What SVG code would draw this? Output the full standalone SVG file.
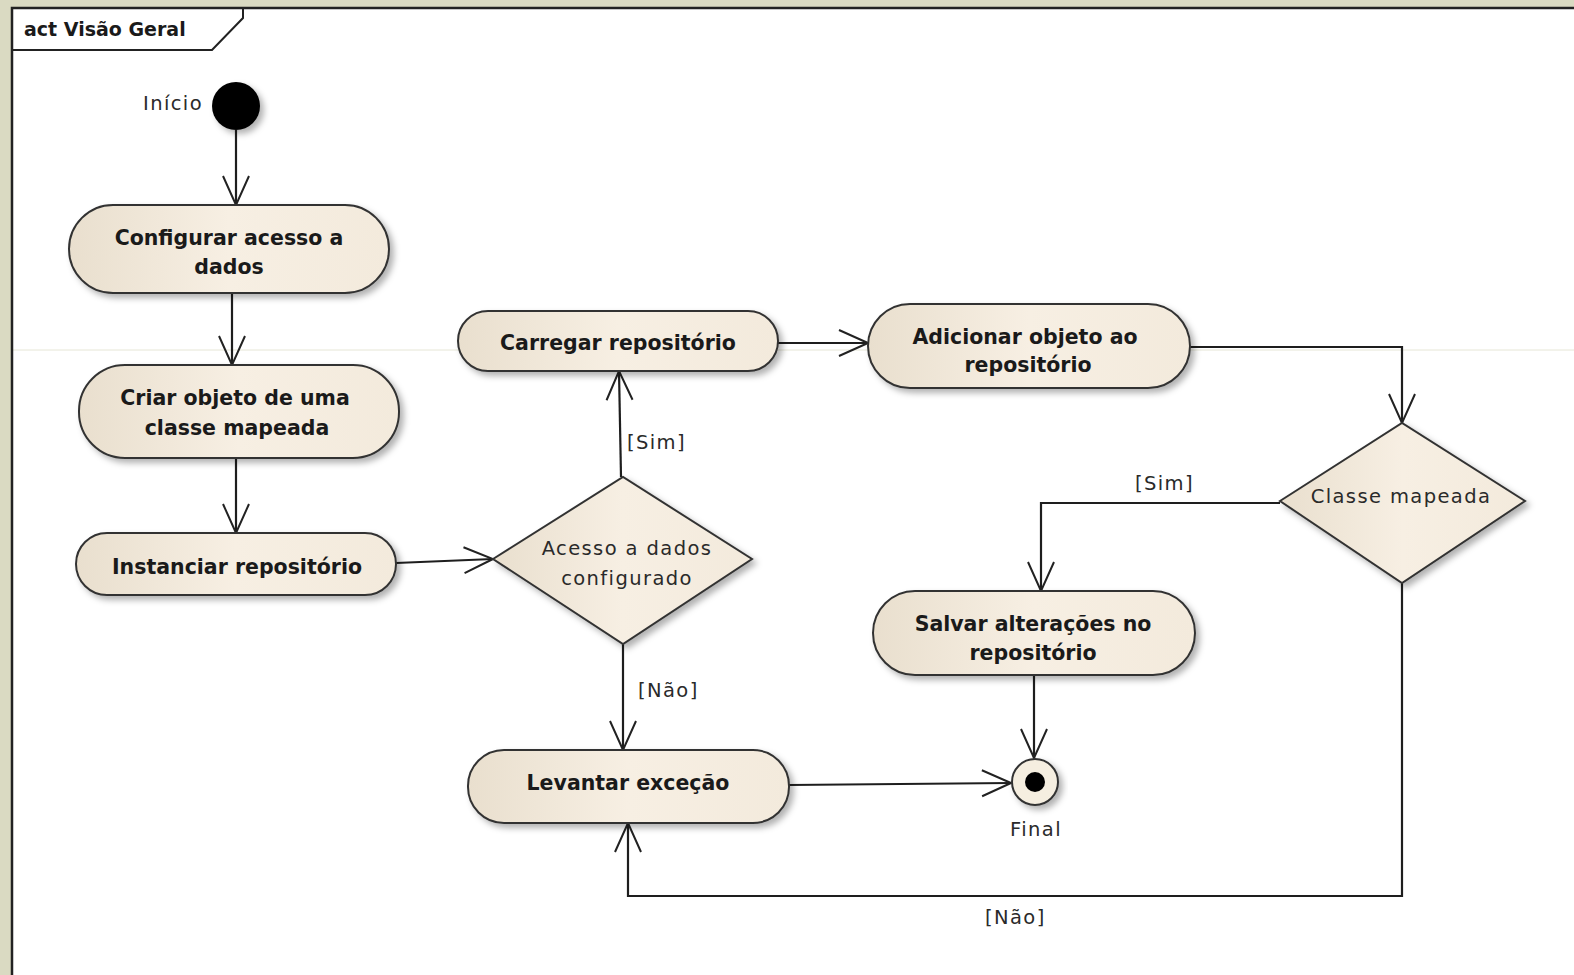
<svg xmlns="http://www.w3.org/2000/svg" width="1574" height="975" viewBox="0 0 1574 975">
<defs>
  <linearGradient id="fillG" x1="0" y1="0" x2="1" y2="0">
    <stop offset="0" stop-color="#e9dfce"/>
    <stop offset="0.5" stop-color="#f7efe3"/>
    <stop offset="1" stop-color="#f3eadc"/>
  </linearGradient>
  <filter id="sh" x="-10%" y="-20%" width="130%" height="150%">
    <feDropShadow dx="4" dy="4" stdDeviation="3" flood-color="#000" flood-opacity="0.3"/>
  </filter>
  <marker id="arr" viewBox="-32 -15 34 30" markerWidth="34" markerHeight="30" refX="0" refY="0" orient="auto" markerUnits="userSpaceOnUse">
    <path d="M-29,-13 L0,0 L-29,13" fill="none" stroke="#222" stroke-width="2"/>
  </marker>
</defs>
<style>
  .act { fill: url(#fillG); stroke: #333; stroke-width: 2; filter: url(#sh); }
  .dec { fill: url(#fillG); stroke: #333; stroke-width: 2; filter: url(#sh); }
  .bt { font-family: "DejaVu Sans", sans-serif; font-weight: bold; font-size: 20.5px; fill: #1a1a1a; text-anchor: middle; }
  .nt { font-family: "DejaVu Sans", sans-serif; font-size: 19.5px; letter-spacing: 1.4px; fill: #2a2a2a; }
  .edge { fill: none; stroke: #1e1e1e; stroke-width: 2.2; marker-end: url(#arr); }
</style>
<rect x="0" y="0" width="1574" height="975" fill="#dadac2"/>
<rect x="12" y="8" width="1570" height="975" fill="#fff"/>
<line x1="12" y1="350" x2="1574" y2="350" stroke="#e6e6d6" stroke-width="1"/>
<path d="M12,975 L12,8 L1574,8" fill="none" stroke="#222" stroke-width="2.5"/>
<g id="frame-title">
  <path d="M12,50 L212,50 L243,18 L243,8" fill="none" stroke="#222" stroke-width="2"/>
  <text x="24" y="36" font-family="DejaVu Sans, sans-serif" font-weight="bold" font-size="19" fill="#1a1a1a">act Visão Geral</text>
</g>

<g id="connectors">
  <path class="edge" d="M236,130 L236,205"/>
  <path class="edge" d="M232,293 L232,365"/>
  <path class="edge" d="M236,458 L236,533"/>
  <path class="edge" d="M396,563 L493,559"/>
  <path class="edge" d="M621,477 L619,371"/>
  <path class="edge" d="M778,343 L868,343"/>
  <path class="edge" d="M1190,347 L1402,347 L1402,423"/>
  <path class="edge" d="M1280,503 L1041,503 L1041,591"/>
  <path class="edge" d="M1034,675 L1034,758"/>
  <path class="edge" d="M623,644 L623,750"/>
  <path class="edge" d="M789,785 L1011,783"/>
  <path class="edge" d="M1402,583 L1402,896 L628,896 L628,823"/>
  <text class="nt" x="627" y="449">[Sim]</text>
  <text class="nt" x="1135" y="490">[Sim]</text>
  <text class="nt" x="638" y="697">[Não]</text>
  <text class="nt" x="985" y="924">[Não]</text>
</g>

<g id="inicio">
  <circle cx="236" cy="106" r="24" fill="#000" filter="url(#sh)"/>
  <text class="nt" x="203" y="110" text-anchor="end">Início</text>
</g>

<g id="configurar">
  <rect class="act" x="69" y="205" width="320" height="88" rx="44"/>
  <text class="bt" x="229" y="245">Configurar acesso a</text>
  <text class="bt" x="229" y="274">dados</text>
</g>

<g id="criar">
  <rect class="act" x="79" y="365" width="320" height="93" rx="46"/>
  <text class="bt" x="235" y="405">Criar objeto de uma</text>
  <text class="bt" x="237" y="435">classe mapeada</text>
</g>

<g id="instanciar">
  <rect class="act" x="76" y="533" width="320" height="62" rx="31"/>
  <text class="bt" x="237" y="574">Instanciar repositório</text>
</g>

<g id="acesso-configurado">
  <polygon class="dec" points="493,559 623,477 752,559 623,644"/>
  <text class="nt" x="627" y="555" text-anchor="middle">Acesso a dados</text>
  <text class="nt" x="627" y="585" text-anchor="middle">configurado</text>
</g>

<g id="carregar">
  <rect class="act" x="458" y="311" width="320" height="60" rx="30"/>
  <text class="bt" x="618" y="350">Carregar repositório</text>
</g>

<g id="adicionar">
  <rect class="act" x="868" y="304" width="322" height="84" rx="42"/>
  <text class="bt" x="1025" y="344">Adicionar objeto ao</text>
  <text class="bt" x="1028" y="372">repositório</text>
</g>

<g id="classe-mapeada">
  <polygon class="dec" points="1280,501 1402,423 1525,501 1402,583"/>
  <text class="nt" x="1401" y="503" text-anchor="middle">Classe mapeada</text>
</g>

<g id="salvar">
  <rect class="act" x="873" y="591" width="322" height="84" rx="42"/>
  <text class="bt" x="1033" y="631">Salvar alterações no</text>
  <text class="bt" x="1033" y="660">repositório</text>
</g>

<g id="levantar">
  <rect class="act" x="468" y="750" width="321" height="73" rx="36"/>
  <text class="bt" x="628" y="790">Levantar exceção</text>
</g>

<g id="final">
  <circle cx="1035" cy="782" r="23" fill="#f5eee0" stroke="#333" stroke-width="2" filter="url(#sh)"/>
  <circle cx="1035" cy="782" r="10" fill="#000"/>
  <text class="nt" x="1036" y="836" text-anchor="middle">Final</text>
</g>
</svg>
